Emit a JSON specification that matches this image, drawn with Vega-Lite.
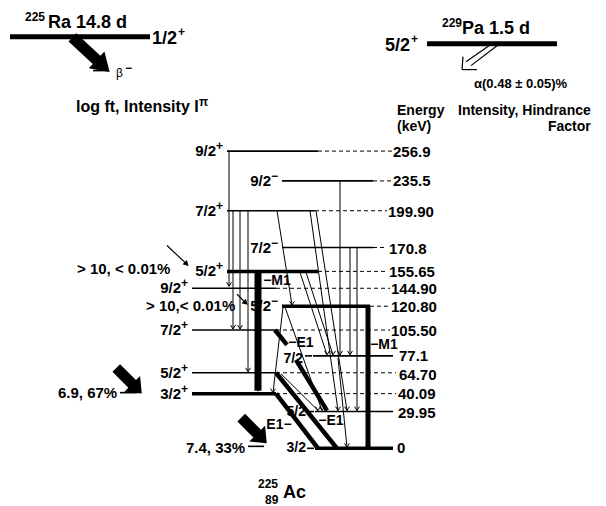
{
  "$schema": "https://vega.github.io/schema/vega-lite/v6.json",
  "width": 606,
  "height": 506,
  "autosize": {"type": "fit", "contains": "padding"},
  "padding": 0,
  "background": "white",
  "config": {
    "view": {"stroke": null},
    "text": {"font": "Liberation Sans", "fontWeight": "bold", "color": "black"},
    "rule": {"color": "black"}
  },
  "datasets": {
    "lvThin": [
      {"x": 227, "x2": 318, "y": 152},
      {"x": 282, "x2": 373, "y": 182},
      {"x": 227, "x2": 315, "y": 212},
      {"x": 282, "x2": 373, "y": 249},
      {"x": 192, "x2": 276, "y": 290},
      {"x": 192, "x2": 276, "y": 332},
      {"x": 313, "x2": 393, "y": 358},
      {"x": 192, "x2": 276, "y": 375},
      {"x": 315, "x2": 393, "y": 414},
      {"x": 305, "x2": 312, "y": 358},
      {"x": 307, "x2": 314, "y": 414},
      {"x": 307, "x2": 314, "y": 451},
      {"x": 120, "x2": 137, "y": 395},
      {"x": 248, "x2": 264, "y": 449},
      {"x": 93, "x2": 108, "y": 71}
    ],
    "lvThick": [
      {"x": 227, "x2": 318, "y": 273},
      {"x": 282, "x2": 370, "y": 308},
      {"x": 192, "x2": 276, "y": 396},
      {"x": 315, "x2": 393, "y": 451}
    ],
    "parent": [
      {"x": 10, "x2": 150, "y": 37},
      {"x": 427, "x2": 557, "y": 44}
    ],
    "dash": [
      {"x": 318, "x2": 392, "y": 152},
      {"x": 373, "x2": 392, "y": 182},
      {"x": 315, "x2": 387, "y": 212},
      {"x": 373, "x2": 387, "y": 249},
      {"x": 318, "x2": 387, "y": 273},
      {"x": 276, "x2": 390, "y": 290},
      {"x": 370, "x2": 390, "y": 308},
      {"x": 276, "x2": 390, "y": 332},
      {"x": 276, "x2": 396, "y": 375},
      {"x": 276, "x2": 396, "y": 396}
    ],
    "gThin": [
      {"x": 229, "y": 152, "x2": 229, "y2": 288},
      {"x": 233, "y": 212, "x2": 233, "y2": 331},
      {"x": 240, "y": 212, "x2": 240, "y2": 331},
      {"x": 248, "y": 212, "x2": 248, "y2": 374},
      {"x": 277, "y": 212, "x2": 292, "y2": 307},
      {"x": 310, "y": 212, "x2": 338, "y2": 413},
      {"x": 316, "y": 212, "x2": 347, "y2": 413},
      {"x": 300, "y": 274, "x2": 327, "y2": 357},
      {"x": 306, "y": 274, "x2": 333, "y2": 357},
      {"x": 340, "y": 182, "x2": 340, "y2": 357},
      {"x": 350, "y": 249, "x2": 350, "y2": 357},
      {"x": 357, "y": 249, "x2": 357, "y2": 413},
      {"x": 283, "y": 309, "x2": 273, "y2": 395},
      {"x": 285, "y": 309, "x2": 322, "y2": 413},
      {"x": 281, "y": 376, "x2": 318, "y2": 413},
      {"x": 338, "y": 360, "x2": 347, "y2": 450}
    ],
    "gThick": [
      {"x": 275, "y": 332, "x2": 287, "y2": 347},
      {"x": 296, "y": 362, "x2": 327, "y2": 413},
      {"x": 276, "y": 375, "x2": 337, "y2": 451},
      {"x": 276, "y": 396, "x2": 318, "y2": 451}
    ],
    "gVertWide": [
      {"x": 258, "y": 274, "x2": 258, "y2": 393}
    ],
    "gVert": [
      {"x": 368, "y": 308, "x2": 368, "y2": 451}
    ],
    "pointers": [
      {"x": 167, "y": 247, "x2": 186, "y2": 265},
      {"x": 237, "y": 296, "x2": 245, "y2": 304}
    ],
    "alphaLines": [
      {"x": 489, "y": 46, "x2": 466, "y2": 62},
      {"x": 497, "y": 46, "x2": 471, "y2": 66},
      {"x": 462, "y": 70, "x2": 463, "y2": 57},
      {"x": 462, "y": 70, "x2": 477, "y2": 70}
    ],
    "fatBig": [{"x": 91, "y": 55}],
    "fatSmall": [{"x": 129, "y": 383}, {"x": 254, "y": 433}],
    "energy": [
      {"x": 393, "y": 153, "t": "256.9"},
      {"x": 393, "y": 182, "t": "235.5"},
      {"x": 388, "y": 213, "t": "199.90"},
      {"x": 389, "y": 250, "t": "170.8"},
      {"x": 389, "y": 274, "t": "155.65"},
      {"x": 391, "y": 291, "t": "144.90"},
      {"x": 391, "y": 309, "t": "120.80"},
      {"x": 391, "y": 333, "t": "105.50"},
      {"x": 399, "y": 358, "t": "77.1"},
      {"x": 399, "y": 377, "t": "64.70"},
      {"x": 398, "y": 396, "t": "40.09"},
      {"x": 398, "y": 415, "t": "29.95"},
      {"x": 397, "y": 451, "t": "0"}
    ],
    "intens": [
      {"y": 153, "t": "1.7%, 11"},
      {"y": 182, "t": "0.7%, 34"},
      {"y": 213, "t": "8.8%, 4.4"},
      {"y": 250, "t": "3.9%, 14"},
      {"y": 274, "t": "36.0%, 1.8"},
      {"y": 291, "t": "4.6%, 17"},
      {"y": 309, "t": "13.3%, 7.5"},
      {"y": 333, "t": "9.7%,\u00a0\u00a012.5"},
      {"y": 358, "t": "<0.2%,> 1100"},
      {"y": 377, "t": "18.5%, 11"},
      {"y": 396, "t": "<0.2%,> 1200"},
      {"y": 415, "t": "<0.2%,> 1200"},
      {"y": 451, "t": "<0.5%,> 800"}
    ],
    "spins": [
      {"x": 225, "y": 152, "j": "9/2", "p": "+"},
      {"x": 280, "y": 182, "j": "9/2", "p": "−"},
      {"x": 225, "y": 212, "j": "7/2", "p": "+"},
      {"x": 280, "y": 249, "j": "7/2", "p": "−"},
      {"x": 225, "y": 273, "j": "5/2", "p": "+"},
      {"x": 190, "y": 290, "j": "9/2", "p": "+"},
      {"x": 280, "y": 308, "j": "5/2", "p": "−"},
      {"x": 190, "y": 332, "j": "7/2", "p": "+"},
      {"x": 190, "y": 375, "j": "5/2", "p": "+"},
      {"x": 190, "y": 396, "j": "3/2", "p": "+"}
    ],
    "spinPlain": [
      {"x": 303, "y": 361, "t": "7/2"},
      {"x": 306, "y": 414, "t": "5/2"},
      {"x": 306, "y": 451, "t": "3/2"}
    ],
    "trLab": [
      {"x": 277, "y": 283, "t": "−M1"},
      {"x": 301, "y": 345, "t": "−E1"},
      {"x": 384, "y": 347, "t": "−M1"},
      {"x": 279, "y": 428, "t": "E1−"},
      {"x": 331, "y": 424, "t": "−E1"}
    ],
    "t14": [
      {"x": 397, "y": 112, "t": "Energy"},
      {"x": 397, "y": 128, "t": "(keV)"},
      {"x": 458, "y": 112, "t": "Intensity, Hindrance"},
      {"x": 548, "y": 128, "t": "Factor"}
    ],
    "t15": [
      {"x": 77, "y": 271, "t": "> 10, < 0.01%"},
      {"x": 146, "y": 308, "t": "> 10,< 0.01%"},
      {"x": 58, "y": 395, "t": "6.9, 67%"},
      {"x": 186, "y": 451, "t": "7.4, 33%"}
    ],
    "t16": [
      {"x": 76, "y": 108, "t": "log ft, Intensity I"}
    ],
    "tBig": [
      {"x": 48, "y": 23, "t": "Ra 14.8 d"},
      {"x": 462, "y": 29, "t": "Pa 1.5 d"},
      {"x": 283, "y": 496, "t": "Ac"},
      {"x": 152, "y": 39, "t": "1/2"},
      {"x": 385, "y": 46, "t": "5/2"}
    ],
    "tSup": [
      {"x": 25, "y": 17, "t": "225"},
      {"x": 442, "y": 23, "t": "229"},
      {"x": 178, "y": 32, "t": "+"},
      {"x": 411, "y": 39, "t": "+"},
      {"x": 199, "y": 103, "t": "π"},
      {"x": 258, "y": 487, "t": "225"},
      {"x": 265, "y": 503, "t": "89"},
      {"x": 125, "y": 68, "t": "−"}
    ],
    "tAlpha": [{"x": 474, "y": 85, "t": "α(0.48 ± 0.05)%"}],
    "tBeta": [{"x": 116, "y": 73, "t": "β"}]
  },
  "encoding": {
    "x": {"field": "x", "type": "quantitative", "scale": {"domain": [0, 606], "nice": false, "zero": false}, "axis": null},
    "y": {"field": "y", "type": "quantitative", "scale": {"domain": [0, 506], "nice": false, "zero": false, "reverse": true}, "axis": null}
  },
  "layer": [
    {"data": {"name": "dash"}, "mark": {"type": "rule", "strokeWidth": 1, "strokeDash": [4, 3]}, "encoding": {"x2": {"field": "x2"}}},
    {"data": {"name": "lvThin"}, "mark": {"type": "rule", "strokeWidth": 1.6}, "encoding": {"x2": {"field": "x2"}}},
    {"data": {"name": "lvThick"}, "mark": {"type": "rule", "strokeWidth": 3.5}, "encoding": {"x2": {"field": "x2"}}},
    {"data": {"name": "parent"}, "mark": {"type": "rule", "strokeWidth": 5}, "encoding": {"x2": {"field": "x2"}}},
    {"data": {"name": "gThin"}, "mark": {"type": "rule", "strokeWidth": 1}, "encoding": {"x2": {"field": "x2"}, "y2": {"field": "y2"}}},
    {"data": {"name": "gThick"}, "mark": {"type": "rule", "strokeWidth": 4.5}, "encoding": {"x2": {"field": "x2"}, "y2": {"field": "y2"}}},
    {"data": {"name": "gVertWide"}, "mark": {"type": "rule", "strokeWidth": 7}, "encoding": {"x2": {"field": "x2"}, "y2": {"field": "y2"}}},
    {"data": {"name": "gVert"}, "mark": {"type": "rule", "strokeWidth": 5}, "encoding": {"x2": {"field": "x2"}, "y2": {"field": "y2"}}},
    {"data": {"name": "pointers"}, "mark": {"type": "rule", "strokeWidth": 1.2}, "encoding": {"x2": {"field": "x2"}, "y2": {"field": "y2"}}},
    {"data": {"name": "alphaLines"}, "mark": {"type": "rule", "strokeWidth": 1.2}, "encoding": {"x2": {"field": "x2"}, "y2": {"field": "y2"}}},
    {
      "data": {"name": "gThin"},
      "mark": {"type": "point", "shape": "M -0.6 -1 L 0 0 L 0.6 -1", "filled": false, "size": 64, "strokeWidth": 1, "stroke": "black", "opacity": 1},
      "encoding": {
        "x": {"field": "x2", "type": "quantitative", "scale": {"domain": [0, 606], "nice": false, "zero": false}, "axis": null},
        "y": {"field": "y2", "type": "quantitative", "scale": {"domain": [0, 506], "nice": false, "zero": false, "reverse": true}, "axis": null}
      }
    },
    {
      "data": {"name": "gVertWide"},
      "mark": {"type": "point", "shape": "M -0.6 -1 L 0 0 L 0.6 -1", "filled": false, "size": 100, "strokeWidth": 1.2, "stroke": "black", "opacity": 1},
      "encoding": {
        "x": {"field": "x2", "type": "quantitative", "scale": {"domain": [0, 606], "nice": false, "zero": false}, "axis": null},
        "y": {"field": "y2", "type": "quantitative", "scale": {"domain": [0, 506], "nice": false, "zero": false, "reverse": true}, "axis": null}
      }
    },
    {
      "data": {"name": "pointers"},
      "mark": {"type": "point", "shape": "triangle", "filled": true, "size": 40, "angle": 135, "color": "black", "opacity": 1},
      "encoding": {
        "x": {"field": "x2", "type": "quantitative", "scale": {"domain": [0, 606], "nice": false, "zero": false}, "axis": null},
        "y": {"field": "y2", "type": "quantitative", "scale": {"domain": [0, 506], "nice": false, "zero": false, "reverse": true}, "axis": null}
      }
    },
    {
      "data": {"name": "fatBig"},
      "mark": {"type": "point", "shape": "M -0.22 1 L -0.22 -0.3 L -0.45 -0.3 L 0 -1 L 0.45 -0.3 L 0.22 -0.3 L 0.22 1 Z", "filled": true, "size": 2600, "angle": 133, "color": "black", "opacity": 1, "strokeWidth": 0}
    },
    {
      "data": {"name": "fatSmall"},
      "mark": {"type": "point", "shape": "M -0.3 1 L -0.3 -0.25 L -0.62 -0.25 L 0 -1 L 0.62 -0.25 L 0.3 -0.25 L 0.3 1 Z", "filled": true, "size": 1300, "angle": 135, "color": "black", "opacity": 1, "strokeWidth": 0}
    },
    {"data": {"name": "energy"}, "mark": {"type": "text", "align": "left", "fontSize": 15}, "encoding": {"text": {"field": "t"}}},
    {
      "data": {"name": "intens"},
      "mark": {"type": "text", "align": "center", "fontSize": 15},
      "encoding": {
        "x": {"datum": 496, "type": "quantitative", "scale": {"domain": [0, 606], "nice": false, "zero": false}, "axis": null},
        "text": {"field": "t"}
      }
    },
    {"data": {"name": "spins"}, "mark": {"type": "text", "align": "right", "fontSize": 15, "dx": -9}, "encoding": {"text": {"field": "j"}}},
    {"data": {"name": "spins"}, "mark": {"type": "text", "align": "left", "fontSize": 12, "dx": -9, "dy": -5}, "encoding": {"text": {"field": "p"}}},
    {"data": {"name": "spinPlain"}, "mark": {"type": "text", "align": "right", "fontSize": 14}, "encoding": {"text": {"field": "t"}}},
    {"data": {"name": "trLab"}, "mark": {"type": "text", "align": "center", "fontSize": 14}, "encoding": {"text": {"field": "t"}}},
    {"data": {"name": "t14"}, "mark": {"type": "text", "align": "left", "fontSize": 14}, "encoding": {"text": {"field": "t"}}},
    {"data": {"name": "t15"}, "mark": {"type": "text", "align": "left", "fontSize": 15}, "encoding": {"text": {"field": "t"}}},
    {"data": {"name": "t16"}, "mark": {"type": "text", "align": "left", "fontSize": 16}, "encoding": {"text": {"field": "t"}}},
    {"data": {"name": "tBig"}, "mark": {"type": "text", "align": "left", "fontSize": 18}, "encoding": {"text": {"field": "t"}}},
    {"data": {"name": "tSup"}, "mark": {"type": "text", "align": "left", "fontSize": 12}, "encoding": {"text": {"field": "t"}}},
    {"data": {"name": "tAlpha"}, "mark": {"type": "text", "align": "left", "fontSize": 13}, "encoding": {"text": {"field": "t"}}},
    {"data": {"name": "tBeta"}, "mark": {"type": "text", "align": "left", "fontSize": 12, "fontWeight": "normal"}, "encoding": {"text": {"field": "t"}}}
  ]
}
